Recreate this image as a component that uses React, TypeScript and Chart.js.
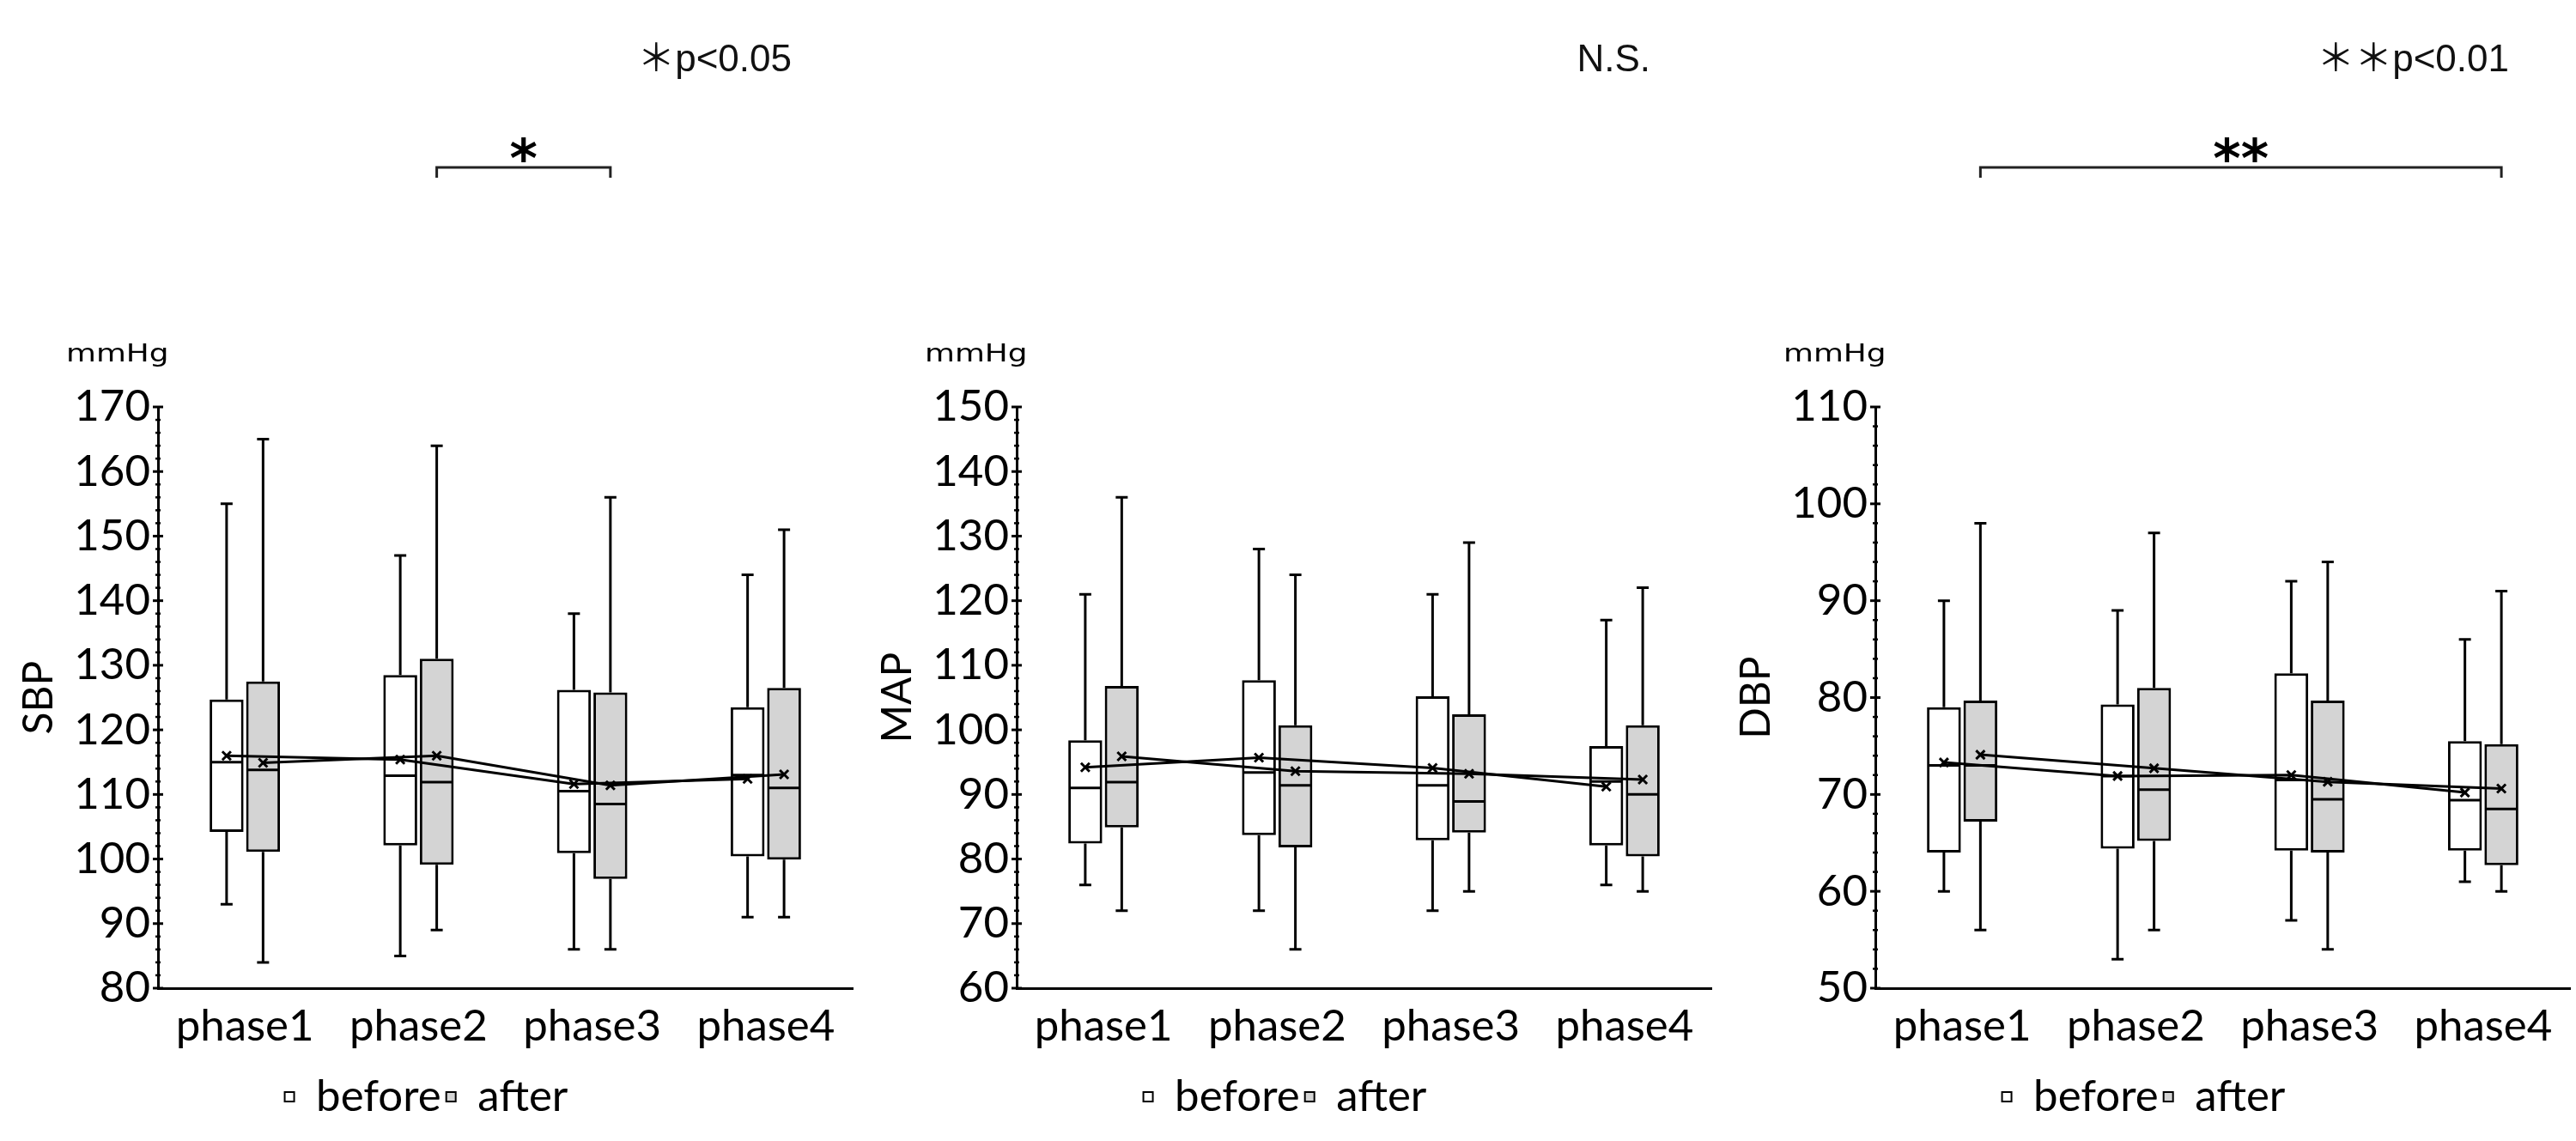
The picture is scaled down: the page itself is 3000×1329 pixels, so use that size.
import React, { useEffect, useRef } from 'react';
import { Chart, registerables } from 'chart.js';

Chart.register(...registerables);

// ---------- data ----------
const phases = ['phase1', 'phase2', 'phase3', 'phase4'];
const seriesNames = ['before', 'after'];

// SBP
const sbpBeforeMin = [93, 85, 86, 91];
const sbpBeforeQ1 = [104.2, 102.1, 100.9, 100.4];
const sbpBeforeMedian = [115, 112.9, 110.5, 113];
const sbpBeforeQ3 = [124.7, 128.5, 126.2, 123.5];
const sbpBeforeMax = [155, 147, 138, 144];
const sbpBeforeMean = [116, 115.4, 111.6, 112.4];
const sbpAfterMin = [84, 89, 86, 91];
const sbpAfterQ1 = [101.1, 99.1, 96.9, 99.9];
const sbpAfterMedian = [113.8, 111.9, 108.5, 111];
const sbpAfterQ3 = [127.5, 131, 125.8, 126.5];
const sbpAfterMax = [165, 164, 156, 151];
const sbpAfterMean = [114.9, 116, 111.4, 113.1];

// MAP
const mapBeforeMin = [76, 72, 72, 76];
const mapBeforeQ1 = [82.4, 83.7, 82.9, 82.1];
const mapBeforeMedian = [91, 93.4, 91.4, 92];
const mapBeforeQ3 = [98.4, 107.7, 105.2, 97.5];
const mapBeforeMax = [121, 128, 121, 117];
const mapBeforeMean = [94.2, 95.7, 94.1, 91.2];
const mapAfterMin = [72, 66, 75, 75];
const mapAfterQ1 = [84.9, 81.8, 84.1, 80.4];
const mapAfterMedian = [91.9, 91.4, 88.9, 90];
const mapAfterQ3 = [106.8, 100.7, 102.4, 100.7];
const mapAfterMax = [136, 124, 129, 122];
const mapAfterMean = [95.9, 93.6, 93.2, 92.3];

// DBP
const dbpBeforeMin = [60, 53, 57, 61];
const dbpBeforeQ1 = [64, 64.4, 64.2, 64.2];
const dbpBeforeMedian = [73, 71.9, 71.5, 69.4];
const dbpBeforeQ3 = [79, 79.3, 82.5, 75.5];
const dbpBeforeMax = [90, 89, 92, 86];
const dbpBeforeMean = [73.3, 71.9, 72, 70.2];
const dbpAfterMin = [56, 56, 54, 60];
const dbpAfterQ1 = [67.2, 65.2, 64, 62.7];
const dbpAfterMedian = [73, 70.5, 69.5, 68.5];
const dbpAfterQ3 = [79.7, 81, 79.7, 75.2];
const dbpAfterMax = [98, 97, 94, 91];
const dbpAfterMean = [74.1, 72.7, 71.3, 70.6];

// axis ranges
const sbpRange = [80, 170];
const mapRange = [60, 150];
const dbpRange = [50, 110];

// annotations
const sbpNote = '＊p<0.05';
const mapNote = 'N.S.';
const dbpNote = '＊＊p<0.01';
const sbpSigPair = [1, 2];
const dbpSigPair = [0, 3];
const sbpStars = '*';
const dbpStars = '**';
const unitLabel = 'mmHg';

// ---------- layout / style constants ----------
const W = 1000;
const H = 1329;
const CAT_PCT = 0.42;
const BAR_PCT = 0.93;
const FONT = 'Lato';

type Stats = { min: number[]; q1: number[]; median: number[]; q3: number[]; max: number[]; mean: number[] };

const boxPlugin = {
  id: 'boxExtras',
  afterDatasetDraw(chart: any, args: any) {
    const ds: any = chart.data.datasets[args.index];
    if (!ds.stats) return;
    const ys = chart.scales.y;
    const ctx = chart.ctx;
    ctx.save();
    ctx.strokeStyle = '#000';
    ctx.lineWidth = 3;
    ctx.lineCap = 'butt';
    args.meta.data.forEach((el: any, i: number) => {
      const { x, width } = el.getProps(['x', 'width'], true);
      const [lo, hi] = ds.data[i];
      const st = ds.stats;
      const cap = 7;
      const pMax = ys.getPixelForValue(st.max[i]);
      const pMin = ys.getPixelForValue(st.min[i]);
      const pQ3 = ys.getPixelForValue(hi);
      const pQ1 = ys.getPixelForValue(lo);
      const pMed = ys.getPixelForValue(st.median[i]);
      ctx.beginPath();
      ctx.moveTo(x, pQ3);
      ctx.lineTo(x, pMax);
      ctx.moveTo(x - cap, pMax);
      ctx.lineTo(x + cap, pMax);
      ctx.moveTo(x, pQ1);
      ctx.lineTo(x, pMin);
      ctx.moveTo(x - cap, pMin);
      ctx.lineTo(x + cap, pMin);
      ctx.stroke();
      ctx.beginPath();
      ctx.moveTo(x - width / 2 + 1.5, pMed);
      ctx.lineTo(x + width / 2 - 1.5, pMed);
      ctx.stroke();
    });
    ctx.restore();
  },
  afterDatasetsDraw(chart: any) {
    // mean lines + "x" markers, positioned on the bar elements
    const ys = chart.scales.y;
    const ctx = chart.ctx;
    ctx.save();
    ctx.strokeStyle = '#000';
    ctx.lineJoin = 'round';
    chart.data.datasets.forEach((ds: any, di: number) => {
      if (!ds.stats) return;
      const meta = chart.getDatasetMeta(di);
      const pts = meta.data.map((el: any, i: number) => [el.x, ys.getPixelForValue(ds.stats.mean[i])]);
      ctx.lineWidth = 3;
      ctx.beginPath();
      pts.forEach(([x, y]: number[], i: number) => (i === 0 ? ctx.moveTo(x, y) : ctx.lineTo(x, y)));
      ctx.stroke();
      const r = 5;
      pts.forEach(([x, y]: number[]) => {
        ctx.beginPath();
        ctx.moveTo(x - r, y - r);
        ctx.lineTo(x + r, y + r);
        ctx.moveTo(x - r, y + r);
        ctx.lineTo(x + r, y - r);
        ctx.stroke();
      });
    });
    ctx.restore();
  },
};

const annotPlugin = {
  id: 'annot',
  afterDraw(chart: any, _args: any, opts: any) {
    const ctx = chart.ctx;
    const area = chart.chartArea;
    const ys = chart.scales.y;
    ctx.save();
    ctx.textBaseline = 'alphabetic';
    // crossing ticks on y axis
    ctx.strokeStyle = '#000';
    ys.ticks.forEach((t: any) => {
      const py = ys.getPixelForValue(t.value);
      const major = t.value % 10 === 0;
      const half = major ? 6 : 3;
      ctx.lineWidth = major ? 3 : 2.5;
      ctx.beginPath();
      ctx.moveTo(area.left - half, py);
      ctx.lineTo(area.left + half, py);
      ctx.stroke();
    });
    // unit label (slightly widened, as in the source figure)
    ctx.save();
    ctx.fillStyle = '#000';
    ctx.font = '28px "DejaVu Sans"';
    ctx.textAlign = 'left';
    ctx.textBaseline = 'alphabetic';
    ctx.translate(77, 421);
    ctx.scale(1.28, 1);
    ctx.fillText(opts.unit, 0, 0);
    ctx.restore();
    // significance note
    ctx.textBaseline = 'alphabetic';
    ctx.fillStyle = '#111';
    ctx.font = '44px "Liberation Sans", "Noto Sans CJK JP"';
    ctx.textAlign = 'right';
    ctx.fillText(opts.note, 922, 83);
    // bracket
    if (opts.pair) {
      const meta = chart.getDatasetMeta(1);
      const xa = meta.data[opts.pair[0]].x;
      const xb = meta.data[opts.pair[1]].x;
      const yb = 195;
      ctx.strokeStyle = '#222';
      ctx.lineWidth = 3;
      ctx.beginPath();
      ctx.moveTo(xa, yb + 12);
      ctx.lineTo(xa, yb);
      ctx.lineTo(xb, yb);
      ctx.lineTo(xb, yb + 12);
      ctx.stroke();
      ctx.fillStyle = '#000';
      ctx.font = 'bold 62px "DejaVu Sans"';
      ctx.textAlign = 'center';
      ctx.fillText(opts.stars, (xa + xb) / 2, 206);
    }
    ctx.restore();
  },
};

type PanelCfg = {
  title: string;
  range: number[];
  before: Stats;
  after: Stats;
  note: string;
  pair: number[] | null;
  stars: string;
};

const panels: PanelCfg[] = [
  {
    title: 'SBP',
    range: sbpRange,
    before: { min: sbpBeforeMin, q1: sbpBeforeQ1, median: sbpBeforeMedian, q3: sbpBeforeQ3, max: sbpBeforeMax, mean: sbpBeforeMean },
    after: { min: sbpAfterMin, q1: sbpAfterQ1, median: sbpAfterMedian, q3: sbpAfterQ3, max: sbpAfterMax, mean: sbpAfterMean },
    note: sbpNote,
    pair: sbpSigPair,
    stars: sbpStars,
  },
  {
    title: 'MAP',
    range: mapRange,
    before: { min: mapBeforeMin, q1: mapBeforeQ1, median: mapBeforeMedian, q3: mapBeforeQ3, max: mapBeforeMax, mean: mapBeforeMean },
    after: { min: mapAfterMin, q1: mapAfterQ1, median: mapAfterMedian, q3: mapAfterQ3, max: mapAfterMax, mean: mapAfterMean },
    note: mapNote,
    pair: null,
    stars: '',
  },
  {
    title: 'DBP',
    range: dbpRange,
    before: { min: dbpBeforeMin, q1: dbpBeforeQ1, median: dbpBeforeMedian, q3: dbpBeforeQ3, max: dbpBeforeMax, mean: dbpBeforeMean },
    after: { min: dbpAfterMin, q1: dbpAfterQ1, median: dbpAfterMedian, q3: dbpAfterQ3, max: dbpAfterMax, mean: dbpAfterMean },
    note: dbpNote,
    pair: dbpSigPair,
    stars: dbpStars,
  },
];

function buildConfig(cfg: PanelCfg): any {
  const boxDs = (name: string, st: Stats, fill: string) => ({
    type: 'bar',
    label: name,
    data: phases.map((_, i) => [st.q1[i], st.q3[i]]),
    stats: st,
    backgroundColor: fill,
    borderColor: '#000',
    borderWidth: 3,
    borderSkipped: false,
    categoryPercentage: CAT_PCT,
    barPercentage: BAR_PCT,
  });
  const tickFont = { family: FONT, size: 51 };
  const titleFont = { family: FONT, size: 48 };
  return {
    type: 'bar',
    data: {
      labels: phases,
      datasets: [boxDs(seriesNames[0], cfg.before, '#ffffff'), boxDs(seriesNames[1], cfg.after, '#d4d4d4')],
    },
    plugins: [boxPlugin, annotPlugin],
    options: {
      responsive: false,
      animation: false,
      events: [],
      layout: { padding: { top: 474, right: 7, bottom: 16, left: 0 } },
      plugins: {
        tooltip: { enabled: false },
        title: { display: false },
        legend: {
          position: 'bottom',
          labels: {
            font: tickFont,
            color: '#000',
            boxWidth: 11,
            boxHeight: 11,
            padding: 6,
            generateLabels: (chart: any) =>
              (Chart.defaults.plugins.legend.labels as any)
                .generateLabels(chart)
                .map((l: any) => ({ ...l, lineWidth: 2 })),
          },
        },
        annot: { unit: unitLabel, note: cfg.note, pair: cfg.pair, stars: cfg.stars },
      },
      scales: {
        x: {
          type: 'category',
          offset: true,
          grid: { display: true, drawOnChartArea: false, drawTicks: false },
          border: { color: '#000', width: 3 },
          ticks: { font: tickFont, color: '#000', padding: 14, maxRotation: 0, autoSkip: false },
          afterFit: (s: any) => {
            s.height = 95;
          },
        },
        y: {
          type: 'linear',
          min: cfg.range[0],
          max: cfg.range[1],
          grid: { display: true, drawOnChartArea: false, drawTicks: false },
          border: { color: '#000', width: 3 },
          ticks: {
            stepSize: 2,
            autoSkip: false,
            padding: 9,
            font: tickFont,
            color: '#000',
            callback: (v: any) => (Number(v) % 10 === 0 ? String(v) : ''),
          },
          title: { display: true, text: cfg.title, font: titleFont, color: '#000', padding: { top: 17, bottom: 0 } },
          afterFit: (s: any) => {
            s.width = 184;
          },
        },
      },
    },
  };
}

function Panel({ cfg, left }: { cfg: PanelCfg; left: number }) {
  const ref = useRef<HTMLCanvasElement>(null);
  useEffect(() => {
    const chart = new Chart(ref.current as HTMLCanvasElement, buildConfig(cfg));
    return () => chart.destroy();
  }, [cfg]);
  return (
    <div style={{ position: 'absolute', left, top: 0, width: W, height: H }}>
      <canvas ref={ref} width={W} height={H} style={{ width: W, height: H, display: 'block' }} />
    </div>
  );
}

export default function App() {
  return (
    <div style={{ position: 'absolute', left: 0, top: 0, width: 3000, height: H, background: '#fff', overflow: 'hidden' }}>
      {panels.map((p, i) => (
        <Panel key={p.title} cfg={p} left={i * W} />
      ))}
    </div>
  );
}
